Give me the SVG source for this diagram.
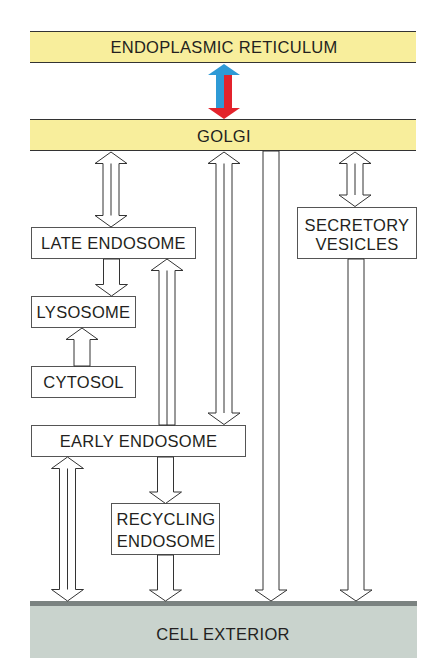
<svg xmlns="http://www.w3.org/2000/svg" width="437" height="669" viewBox="0 0 437 669">
<style>
text{font-family:"Liberation Sans",Arial,sans-serif;font-size:16.5px;letter-spacing:0.3px;fill:#231f20;text-anchor:middle}
.box{fill:#fff;stroke:#555;stroke-width:1}
.arr{fill:#fff;stroke:#333;stroke-width:1;stroke-linejoin:miter}
.mid{stroke:#333;stroke-width:1;fill:none}
</style>
<rect width="437" height="669" fill="#fff"/>
<g id="er">
<rect x="30" y="31" width="386" height="32" fill="#f8ee9c"/>
<line x1="30" y1="31.5" x2="416" y2="31.5" stroke="#333"/>
<line x1="30" y1="62.5" x2="416" y2="62.5" stroke="#333"/>
<text x="224" y="53">ENDOPLASMIC RETICULUM</text>
</g>
<g id="golgi">
<rect x="30" y="119" width="386" height="32" fill="#f8ee9c"/>
<line x1="30" y1="119.5" x2="416" y2="119.5" stroke="#333"/>
<line x1="30" y1="150.5" x2="416" y2="150.5" stroke="#333"/>
<text x="224" y="141.5">GOLGI</text>
</g>
<g id="late-endosome">
<rect class="box" x="31.5" y="227.5" width="164" height="31"/>
<text x="113.5" y="249">LATE ENDOSOME</text>
</g>
<g id="lysosome">
<rect class="box" x="31.5" y="296.5" width="104" height="31"/>
<text x="83.5" y="317.5">LYSOSOME</text>
</g>
<g id="cytosol">
<rect class="box" x="31.5" y="366.5" width="104" height="31"/>
<text x="83.5" y="387.5">CYTOSOL</text>
</g>
<g id="early-endosome">
<rect class="box" x="31.5" y="425.5" width="214" height="31"/>
<text x="138.5" y="447">EARLY ENDOSOME</text>
</g>
<g id="recycling-endosome">
<rect class="box" x="111.5" y="503.5" width="108" height="51"/>
<text x="166" y="525">RECYCLING</text>
<text x="166" y="546.5">ENDOSOME</text>
</g>
<g id="secretory-vesicles">
<rect class="box" x="297.5" y="207.5" width="119" height="51"/>
<text x="357" y="230.5">SECRETORY</text>
<text x="357" y="250">VESICLES</text>
</g>
<g id="cell-exterior">
<rect x="30" y="601" width="387" height="57" fill="#c9d3cd"/>
<rect x="30" y="601" width="387" height="5" fill="#7b8381"/>
<text x="223" y="640">CELL EXTERIOR</text>
</g>
<g id="connectors">
<polygon points="224,64 240,75 224,75 224,108 216,108 216,75 208,75" fill="#2e9ad6"/>
<polygon points="224,75 232,75 232,108 240,108 224,119 208,108 224,108" fill="#e3232c"/>
<polygon class="arr" points="111,152 127,163.5 119,163.5 119,215.5 127,215.5 111,227 95,215.5 103,215.5 103,163.5 95,163.5"/>
<line class="mid" x1="111" y1="163.5" x2="111" y2="215.5"/>
<polygon class="arr" points="224,152 240,163.5 232,163.5 232,413 240,413 224,424.5 208,413 216,413 216,163.5 208,163.5"/>
<line class="mid" x1="224" y1="163.5" x2="224" y2="413"/>
<polygon class="arr" points="355,152 371,163.5 363,163.5 363,195 371,195 355,206.5 339,195 347,195 347,163.5 339,163.5"/>
<line class="mid" x1="355" y1="163.5" x2="355" y2="195"/>
<polygon class="arr" points="263,151 279,151 279,590 287,590 271,601 255,590 263,590"/>
<polygon class="arr" points="348,259 364,259 364,590 372,590 356,601 340,590 348,590"/>
<polygon class="arr" points="103.5,259 119.5,259 119.5,284.5 127.5,284.5 111.5,296 95.5,284.5 103.5,284.5"/>
<polygon class="arr" points="82,328 98,339.5 90,339.5 90,366 74,366 74,339.5 66,339.5"/>
<polygon class="arr" points="167,259 183,270.5 175,270.5 175,425 159,425 159,270.5 151,270.5"/>
<line class="mid" x1="167" y1="270.5" x2="167" y2="425"/>
<polygon class="arr" points="67.5,457 83.5,468.5 75.5,468.5 75.5,589.5 83.5,589.5 67.5,601 51.5,589.5 59.5,589.5 59.5,468.5 51.5,468.5"/>
<line class="mid" x1="67.5" y1="468.5" x2="67.5" y2="589.5"/>
<polygon class="arr" points="157.5,457 173.5,457 173.5,492 181.5,492 165.5,503.5 149.5,492 157.5,492"/>
<polygon class="arr" points="157.5,555 173.5,555 173.5,590 181.5,590 165.5,601 149.5,590 157.5,590"/>
</g>
</svg>
